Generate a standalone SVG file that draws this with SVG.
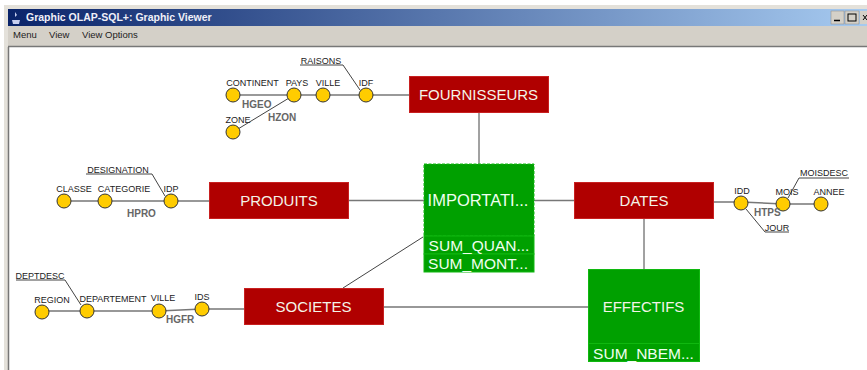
<svg xmlns="http://www.w3.org/2000/svg" width="867" height="370" viewBox="0 0 867 370">
<style>
text{font-family:"Liberation Sans",Arial,sans-serif}
.lnk{stroke:#777;stroke-width:1.5;fill:none}
.thin{stroke:#444;stroke-width:1;fill:none}
.dim{fill:#ffcc00;stroke:#333;stroke-width:1}
.lab{font-size:9px;fill:#222;text-anchor:middle}
.lev{font-size:10px;font-weight:bold;fill:#666}
.red{fill:#b00000;stroke:#c82020;stroke-width:1}
.grn{fill:#00a000;stroke:#10b810;stroke-width:1}
.big{font-size:15px;fill:#f4f4e8;text-anchor:middle}
.imp{font-size:16.5px;fill:#f0fff0;text-anchor:middle}
.meas{font-size:15.5px;fill:#f0fff0;text-anchor:middle}
.menu{font-size:9.5px;fill:#222}
</style>
<defs>
<linearGradient id="tb" x1="0" x2="1" y1="0" y2="0"><stop offset="0" stop-color="#0a246a"/><stop offset="1" stop-color="#a6caf0"/></linearGradient>
</defs>
<rect width="867" height="370" fill="#fff"/>
<g id="window">
<rect x="4" y="5" width="863" height="365" fill="#e4e1da"/>
<rect x="8" y="9" width="859" height="17" fill="url(#tb)"/>
<rect x="8" y="26" width="859" height="20" fill="#d4d0c8"/>
<rect x="9" y="47" width="858" height="323" fill="#fff"/>
<path d="M8.500 47V370M8 46.500H867" stroke="#777" stroke-width="1.500" fill="none"/>
<text x="26" y="21" font-size="10.500" font-weight="bold" fill="#f0f0f8">Graphic OLAP-SQL+: Graphic Viewer</text>
<path d="M12 20h8l-1 4h-6zM15 12l2 3-2 2z" fill="#c8d0f0"/>
<text x="13" y="38" class="menu">Menu</text>
<text x="49" y="38" class="menu">View</text>
<text x="82" y="38" class="menu">View Options</text>
<rect x="831" y="11" width="13" height="13" fill="#d4d0c8" stroke="#888" stroke-width=".5"/>
<path d="M834 20.500h6" stroke="#000" stroke-width="1.500"/>
<rect x="845" y="11" width="14" height="13" fill="#d4d0c8" stroke="#888" stroke-width=".5"/>
<rect x="848" y="14" width="8" height="7" fill="none" stroke="#000"/>
<rect x="860" y="11" width="7" height="13" fill="#d4d0c8"/>
<path d="M863 15l4 5M867 15l-4 5" stroke="#000"/>
</g>
<g id="connectors">
<path class="lnk" d="M233 95H409"/>
<path class="thin" d="M294 95L233 132M300 65H343L360 90"/>
<path class="thin" d="M479 113V164"/>
<path class="lnk" d="M64 201H209M349 200.500H424M534 200.500H574"/>
<path class="thin" d="M86 174H152L165 196"/>
<path class="lnk" d="M42 311H159L202 309H244M384 307H588"/>
<path class="thin" d="M16 280H65L81 305M343 288L423 237M644 219V269"/>
<path class="lnk" d="M714 202H741L783 204H821"/>
<path class="thin" d="M799 178H849M799 178L788 198M765 232H789M765 232L746 209"/>
</g>
<g id="FOURNISSEURS"><rect class="red" x="409.500" y="76.500" width="139" height="36"/><text class="big" x="478.500" y="100">FOURNISSEURS</text></g>
<g id="PRODUITS"><rect class="red" x="209.500" y="182.500" width="139" height="36"/><text class="big" x="279" y="206">PRODUITS</text></g>
<g id="SOCIETES"><rect class="red" x="244.500" y="288.500" width="139" height="36"/><text class="big" x="313.500" y="312">SOCIETES</text></g>
<g id="DATES"><rect class="red" x="574.500" y="182.500" width="139" height="36"/><text class="big" x="644" y="206">DATES</text></g>
<g id="IMPORTATIONS"><rect class="grn" x="424" y="164" width="110" height="72" stroke-dasharray="3 1.500"/><rect class="grn" x="424" y="236" width="110" height="18"/><rect class="grn" x="424" y="254" width="110" height="18"/>
<text class="imp" x="478" y="206">IMPORTATI...</text><text class="meas" x="479" y="251">SUM_QUAN...</text><text class="meas" x="478" y="269">SUM_MONT...</text></g>
<g id="EFFECTIFS"><rect class="grn" x="588.500" y="269.500" width="111" height="74"/><rect class="grn" x="588.500" y="343.500" width="111" height="18"/>
<text class="big" x="643.500" y="312">EFFECTIFS</text><text class="meas" x="643.500" y="359">SUM_NBEM...</text></g>
<g id="dim-fournisseurs">
<circle class="dim" cx="233" cy="95" r="7"/><circle class="dim" cx="294" cy="95" r="7"/><circle class="dim" cx="323" cy="95" r="7"/><circle class="dim" cx="366" cy="95" r="7"/><circle class="dim" cx="233" cy="132" r="7"/>
<text class="lab" x="252.500" y="86">CONTINENT</text><text class="lab" x="297" y="86">PAYS</text><text class="lab" x="328" y="86">VILLE</text><text class="lab" x="366" y="86">IDF</text><text class="lab" x="238" y="123">ZONE</text><text class="lab" x="321" y="64">RAISONS</text>
<text class="lev" x="242" y="108">HGEO</text><text class="lev" x="268" y="121">HZON</text>
</g>
<g id="dim-produits">
<circle class="dim" cx="64" cy="201" r="7"/><circle class="dim" cx="105" cy="201" r="7"/><circle class="dim" cx="171" cy="201" r="7"/>
<text class="lab" x="74" y="192">CLASSE</text><text class="lab" x="124" y="192">CATEGORIE</text><text class="lab" x="171" y="192">IDP</text><text class="lab" x="118" y="173">DESIGNATION</text>
<text class="lev" x="127" y="217">HPRO</text>
</g>
<g id="dim-societes">
<circle class="dim" cx="42" cy="312" r="7"/><circle class="dim" cx="87" cy="311" r="7"/><circle class="dim" cx="159" cy="311" r="7"/><circle class="dim" cx="202" cy="309" r="7"/>
<text class="lab" x="52" y="303">REGION</text><text class="lab" x="113" y="302">DEPARTEMENT</text><text class="lab" x="163" y="301">VILLE</text><text class="lab" x="202" y="300">IDS</text><text class="lab" x="40" y="279">DEPTDESC</text>
<text class="lev" x="166" y="323">HGFR</text>
</g>
<g id="dim-dates">
<circle class="dim" cx="741" cy="203" r="7"/><circle class="dim" cx="783" cy="204" r="7"/><circle class="dim" cx="821" cy="204" r="7"/>
<text class="lab" x="742" y="194">IDD</text><text class="lab" x="787" y="195">MOIS</text><text class="lab" x="829" y="195">ANNEE</text><text class="lab" x="824" y="176">MOISDESC</text><text class="lab" x="777" y="231">JOUR</text>
<text class="lev" x="754" y="216">HTPS</text>
</g>
</svg>
